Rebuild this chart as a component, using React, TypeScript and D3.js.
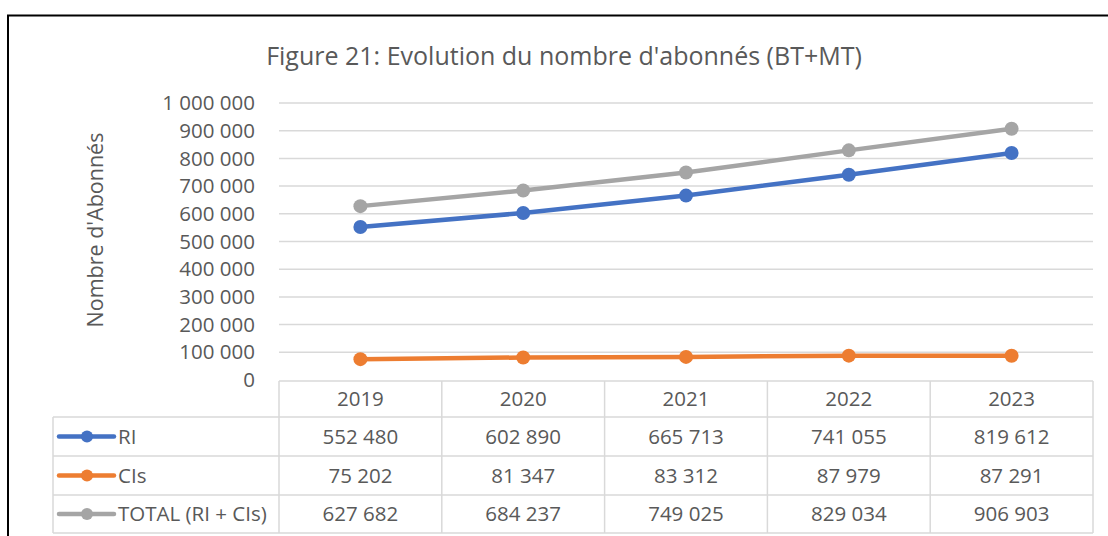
import * as d3 from "d3";
import { useEffect, useRef } from "react";

const years = ["2019", "2020", "2021", "2022", "2023"];
const ri = [552480, 602890, 665713, 741055, 819612];
const cis = [75202, 81347, 83312, 87979, 87291];
const total = [627682, 684237, 749025, 829034, 906903];
const yTicks = [0, 100000, 200000, 300000, 400000, 500000, 600000, 700000, 800000, 900000, 1000000];

const seriesList = [
  { name: "RI", values: ri, color: "#4472C4" },
  { name: "CIs", values: cis, color: "#ED7D31" },
  { name: "TOTAL (RI + CIs)", values: total, color: "#A5A5A5" },
];

const W = 1108;
const H = 536;
const textColor = "#595959";
const gridColor = "#D9D9D9";
const font = "'Open Sans', sans-serif";
const fs = "20.5px";

const fmt = (v: number) => d3.format(",")(v).replace(/,/g, " ");

const redraw = (ref: React.RefObject<SVGSVGElement | null>) => {
  const svg = d3.select(ref.current);
  svg.selectAll("*").remove();

  const plot = { x1: 279, x2: 1093, y1: 103, y2: 380 };
  const x = d3.scaleBand().domain(years).range([plot.x1, plot.x2]);
  const y = d3.scaleLinear().domain([0, 1000000]).range([plot.y2, plot.y1]);

  // frame
  svg.append("path")
    .attr("d", `M8,${H} V15.5 H${W}`)
    .attr("fill", "none")
    .attr("stroke", "#000")
    .attr("stroke-width", 2);

  // title
  svg.append("text")
    .attr("x", 564)
    .attr("y", 56)
    .attr("dy", "0.35em")
    .attr("text-anchor", "middle")
    .attr("fill", textColor)
    .style("font-family", font)
    .style("font-size", "25px")
    .text("Figure 21: Evolution du nombre d'abonnés (BT+MT)");

  // grid
  svg.append("g").selectAll("line")
    .data(yTicks.filter((t) => t > 0))
    .enter().append("line")
    .attr("x1", plot.x1).attr("x2", plot.x2)
    .attr("y1", (d) => y(d)).attr("y2", (d) => y(d))
    .attr("stroke", gridColor)
    .attr("stroke-width", 1.5);

  // y tick labels
  svg.append("g").selectAll("text")
    .data(yTicks)
    .enter().append("text")
    .attr("x", 255)
    .attr("y", (d) => y(d))
    .attr("dy", "0.35em")
    .attr("text-anchor", "end")
    .attr("fill", textColor)
    .style("font-family", font)
    .style("font-size", fs)
    .text((d) => fmt(d));

  // y axis title
  svg.append("text")
    .attr("transform", `translate(95,230) rotate(-90)`)
    .attr("text-anchor", "middle")
    .attr("dy", "0.35em")
    .attr("fill", textColor)
    .style("font-family", font)
    .style("font-size", "21.5px")
    .text("Nombre d'Abonnés");

  // table
  const rows = [381, 417, 456, 495, 533];
  const legendX = 53;
  const tg = svg.append("g").attr("stroke", gridColor).attr("stroke-width", 1.5);
  tg.append("line").attr("x1", plot.x1).attr("x2", plot.x2).attr("y1", rows[0]).attr("y2", rows[0]);
  rows.slice(1).forEach((r) => {
    tg.append("line").attr("x1", legendX).attr("x2", plot.x2).attr("y1", r).attr("y2", r);
  });
  tg.append("line").attr("x1", legendX).attr("x2", legendX).attr("y1", rows[1]).attr("y2", rows[4]);
  years.forEach((yr) => {
    const xv = x(yr) as number;
    tg.append("line").attr("x1", xv).attr("x2", xv).attr("y1", rows[0]).attr("y2", rows[4]);
  });
  tg.append("line").attr("x1", plot.x2).attr("x2", plot.x2).attr("y1", rows[0]).attr("y2", rows[4]);

  const cellText = (g: any, xv: number, yv: number, s: string, anchor = "middle") =>
    g.append("text")
      .attr("x", xv).attr("y", yv).attr("dy", "0.35em")
      .attr("text-anchor", anchor)
      .attr("fill", textColor)
      .style("font-family", font)
      .style("font-size", fs)
      .text(s);

  const table = svg.append("g");
  years.forEach((yr) => {
    cellText(table, (x(yr) as number) + x.bandwidth() / 2, (rows[0] + rows[1]) / 2, yr);
  });
  seriesList.forEach((s, i) => {
    const cy = (rows[i + 1] + rows[i + 2]) / 2;
    table.append("line")
      .attr("x1", 59).attr("x2", 114).attr("y1", cy).attr("y2", cy)
      .attr("stroke", s.color).attr("stroke-width", 4.5).attr("stroke-linecap", "round");
    table.append("circle")
      .attr("cx", 87).attr("cy", cy).attr("r", 6)
      .attr("fill", s.color);
    cellText(table, 118, cy, s.name, "start");
    s.values.forEach((v, j) => {
      cellText(table, (x(years[j]) as number) + x.bandwidth() / 2, cy, fmt(v));
    });
  });

  // lines
  const line = d3.line<number>()
    .x((_, j) => (x(years[j]) as number) + x.bandwidth() / 2)
    .y((d) => y(d));

  [...seriesList].reverse().forEach((s) => {
    const g = svg.append("g");
    g.append("path")
      .attr("d", line(s.values))
      .attr("fill", "none")
      .attr("stroke", s.color)
      .attr("stroke-width", 4.5)
      .attr("stroke-linejoin", "round");
    g.selectAll("circle")
      .data(s.values)
      .enter().append("circle")
      .attr("cx", (_, j) => (x(years[j]) as number) + x.bandwidth() / 2)
      .attr("cy", (d) => y(d))
      .attr("r", 7)
      .attr("fill", s.color);
  });
};

export default function App() {
  const ref = useRef<SVGSVGElement | null>(null);

  useEffect(() => {
    redraw(ref);
  }, []);

  return (
    <div style={{ position: "absolute", left: 0, top: 0, width: W, height: H, background: "#fff" }}>
      <svg ref={ref} width={W} height={H} />
    </div>
  );
}
